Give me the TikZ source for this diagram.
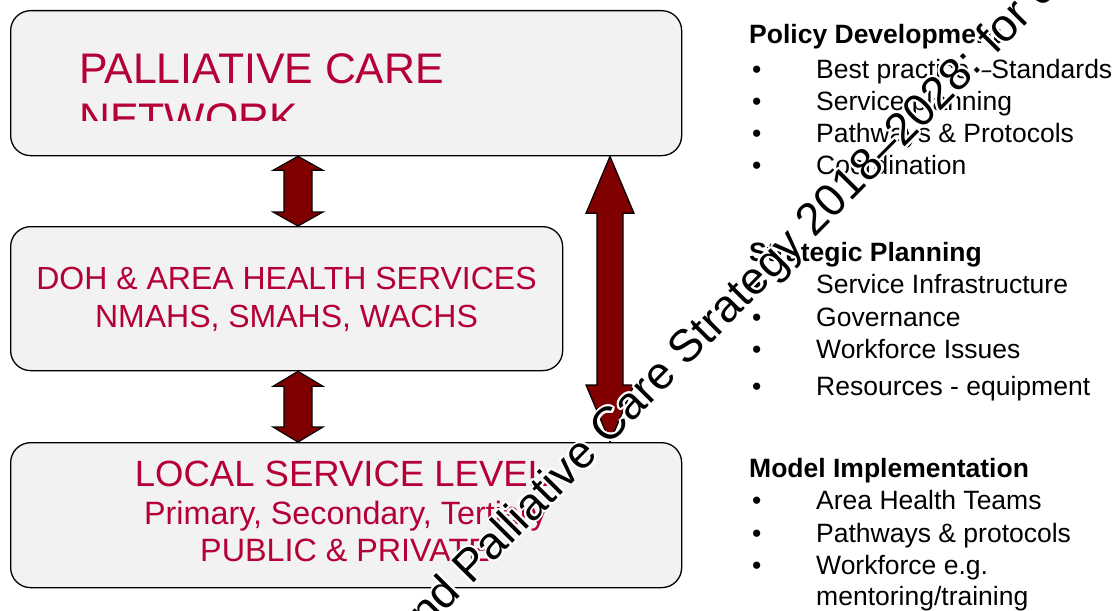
\documentclass[tikz,border=0pt]{standalone}
\usepackage{fontspec}
\setmainfont{Liberation Sans}
\usetikzlibrary{calc}
\definecolor{boxtext}{RGB}{180,0,55}
\definecolor{arrowred}{RGB}{128,0,0}
\definecolor{boxfill}{RGB}{242,242,242}
\tikzset{
  box/.style={draw=black, line width=1.3pt, fill=boxfill, rounded corners=20pt, anchor=north west, inner sep=0pt},
  boxtxt/.style={text=boxtext, inner sep=0pt, anchor=base},
  fat/.style={draw=black, line width=1.2pt, fill=arrowred, line join=miter},
  headtxt/.style={font=\fontsize{26.5}{28}\selectfont\bfseries, anchor=base west, inner sep=0pt},
  itemtxt/.style={font=\fontsize{26.5}{28}\selectfont, anchor=base west, inner sep=0pt},
  wm/.style={font=\fontsize{45.5}{48}\selectfont, rotate=45.3, anchor=base west, inner sep=0pt},
}
\newcommand\fatarrow[5]{%
  \draw[fat] (#1) -- ++(#4,#3) -- ++(-#4+#5,0) -- ($(#2)+(#5,-#3)$) -- ++(#4-#5,0)
    -- (#2) -- ++(-#4,-#3) -- ++(#4-#5,0) -- ($(#1)+(-#5,#3)$) -- ++(-#4+#5,0) -- cycle;}
\newcommand\wmtext{nd Palliative Care Strategy 2018–2028: for c}
\begin{document}
\begin{tikzpicture}[x=1pt,y=-1pt]
\useasboundingbox (0,0) rectangle (1118,610);
\clip (0,0) rectangle (1118,610);

% boxes
\node[box, minimum width=671pt, minimum height=145pt] (b1) at (10,10) {};
\node[box, minimum width=552pt, minimum height=144pt] (b2) at (10,226) {};
\node[box, minimum width=671pt, minimum height=145pt] (b3) at (10,442) {};

% box texts
\node[boxtxt, anchor=base west, font=\fontsize{42.8}{45}\selectfont] (t1a) at (79,83) {PALLIATIVE CARE};
\begin{scope}
  \clip (10,90) rectangle (681,120.5);
  \node[boxtxt, anchor=base west, font=\fontsize{42.8}{45}\selectfont] (t1b) at (79,133) {NETWORK};
\end{scope}
\node[boxtxt, font=\fontsize{32}{34}\selectfont] (t2a) at (286.5,289) {DOH \& AREA HEALTH SERVICES};
\node[boxtxt, font=\fontsize{32}{34}\selectfont] (t2b) at (286.5,327) {NMAHS, SMAHS, WACHS};
\node[boxtxt, font=\fontsize{36.5}{38}\selectfont] (t3a) at (341.5,486) {LOCAL SERVICE LEVEL};
\node[boxtxt, font=\fontsize{32.3}{34}\selectfont] (t3b) at (345.5,524) {Primary, Secondary, Tertiary};
\node[boxtxt, font=\fontsize{32.3}{34}\selectfont] (t3c) at (345,561) {PUBLIC \& PRIVATE};

% arrows
\coordinate (xs) at (298,0);
\coordinate (xb) at (610,0);
\fatarrow{xs |- b1.south}{xs |- b2.north}{14}{25}{14}
\fatarrow{xs |- b2.south}{xs |- b3.north}{15}{25}{14}
\fatarrow{xb |- b1.south}{xb |- b3.north}{57}{24}{13}

% right-hand lists
\node[headtxt] (h1) at (749,44) {Policy Development};
\node[itemtxt] (p1b) at (752,78) {•};  \node[itemtxt] (p1) at (816,78) {Best practice –Standards};
\node[itemtxt] (p2b) at (752,110) {•}; \node[itemtxt] (p2) at (816,110) {Service planning};
\node[itemtxt] (p3b) at (752,142) {•}; \node[itemtxt] (p3) at (816,142) {Pathways \& Protocols};
\node[itemtxt] (p4b) at (752,174) {•}; \node[itemtxt] (p4) at (816,174) {Coordination};

\node[headtxt] (h2) at (749,261) {Strategic Planning};
\node[itemtxt] (s1b) at (752,293) {•}; \node[itemtxt] (s1) at (816,293) {Service Infrastructure};
\node[itemtxt] (s2b) at (752,326) {•}; \node[itemtxt] (s2) at (816,326) {Governance};
\node[itemtxt] (s3b) at (752,358) {•}; \node[itemtxt] (s3) at (816,358) {Workforce Issues};
\node[itemtxt] (s4b) at (752,395) {•}; \node[itemtxt] (s4) at (816,395) {Resources - equipment};

\node[headtxt] (h3) at (749,477) {Model Implementation};
\node[itemtxt] (m1b) at (752,509) {•}; \node[itemtxt] (m1) at (816,509) {Area Health Teams};
\node[itemtxt] (m2b) at (752,542) {•}; \node[itemtxt] (m2) at (816,542) {Pathways \& protocols};
\node[itemtxt] (m3b) at (752,574) {•}; \node[itemtxt] (m3) at (816,574) {Workforce e.g.};
\node[itemtxt] (m4) at (816,605) {mentoring/training};

% watermark: black text with white halo
\coordinate (wms) at (427.0,630.4);
\foreach \a in {0,20,...,340}
  \node[wm, text=white] (wmh\a) at ($(wms)+(\a:2.0)$) {\wmtext};
\node[wm, text=black] (wm) at (wms) {\wmtext};
\end{tikzpicture}
\end{document}
